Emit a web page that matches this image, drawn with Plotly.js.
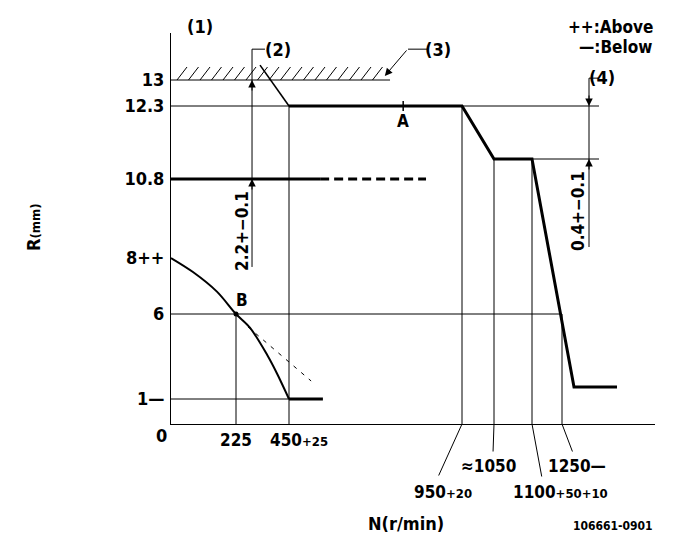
<!DOCTYPE html>
<html><head><meta charset="utf-8">
<script src="https://cdn.plot.ly/plotly-3.0.1.min.js"></script>
<style>html,body{margin:0;padding:0;background:#fff}</style>
</head><body><div id="chart" style="width:681px;height:549px"></div>
<script>
// ===== data (real units: N in r/min, R in mm) =====
const rTickValues = [1, 6, 8, 10.8, 12.3, 13];
const rTickLabels = ['1—', '6', '8++', '10.8', '12.3', '13'];
const nTickValues = [225, 450, 950, 1050, 1100, 1250];
const nTickLabels = ['225', '450<span style="font-size:13px">+25</span>', '950<span style="font-size:13px">+20</span>',
                     '≈1050', '1100<span style="font-size:13px">+50+10</span>', '1250—'];

const governorN = [450, 950, 1050, 1100, 1310, 1525];
const governorR = [12.3, 12.3, 11.9, 11.9, 1.7, 1.7];
const rackLimitN = [327, 450];
const rackLimitR = [13.4, 12.3];
const startN = [0, 76, 159, 225, 284, 357, 399, 450];
const startR = [8, 7.5, 6.8, 6, 5.2, 3.6, 2.5, 1];
const idleN = [450, 548];
const idleR = [1, 1];
const startAltN = [276, 514];
const startAltR = [5.24, 2.06];
const set108SolidN = [0, 540];
const set108DashN = [540, 846];
const set108R = 10.8;
const stopperN = [0, 742];
const stopperR = 13;
const pointA = {n: 780, r: 12.3};
const pointB = {n: 225, r: 6};

// ===== schematic (non-linear) scales of the drawing =====
const nScaleV = [0, 225, 450, 950, 1050, 1100, 1250];
const nScaleP = [0, 65, 118, 291, 323, 361, 391];
const rScaleV = [0, 1, 6, 8, 10.8, 11.9, 12.3, 13];
const rScaleP = [0, 25, 110, 166, 245, 265, 318, 344];
function interp(v, V, P) {
  let i = 0;
  while (i < V.length - 2 && v > V[i + 1]) i++;
  return P[i] + (v - V[i]) * (P[i + 1] - P[i]) / (V[i + 1] - V[i]);
}
const sx = n => interp(n, nScaleV, nScaleP);
const sy = r => interp(r, rScaleV, rScaleP);

// ===== figure geometry =====
const W = 681, H = 549, ML = 171, MR = 26, MT = 33, MB = 125;
const PW = W - ML - MR, PH = H - MT - MB;
const FONT = '"DejaVu Sans Condensed", "Liberation Sans Narrow", sans-serif';

const traces = [];
function line(ns, rs, width, dash, shape) {
  traces.push({x: ns.map(sx), y: rs.map(sy), mode: 'lines', hoverinfo: 'skip', showlegend: false,
    line: {color: '#000', width: width, dash: dash || 'solid', shape: shape || 'linear', smoothing: 0.9}});
}
// thin reference lines
line(stopperN, [stopperR, stopperR], 1);
line([0, 1435], [12.3, 12.3], 1);
line([1100, 1435], [11.9, 11.9], 1);
line([0, 1250], [6, 6], 1);
line([0, 450], [1, 1], 1);
[[225, 6], [450, 12.3], [950, 12.3], [1050, 11.9], [1100, 11.9], [1250, 6]].forEach(v => line([v[0], v[0]], [0, v[1]], 1));
// hatching above the stopper line (decoration)
(function () {
  const hx = [], hy = [];
  const y0 = sy(stopperR);
  for (let i = 0; i < 18; i++) {
    const x0 = 6 + i * 11.5;
    hx.push(x0, x0 + 10, null); hy.push(y0, y0 + 13, null);
  }
  traces.push({x: hx, y: hy, mode: 'lines', hoverinfo: 'skip', showlegend: false, line: {color: '#000', width: 1}});
})();
// dimension (2) and (4) lines, leader of (3)
line([293, 293], [7.68, 13.83], 1);
line([293, 348], [13.83, 13.83], 1);
line([1385, 1385], [8.39, 13.05], 1);
line([1385, 1430], [13.05, 13.05], 1);
line([794, 849], [13.83, 13.83], 1);
// characteristic curves
line(rackLimitN, rackLimitR, 1.6);
line(startN, startR, 2, 'solid', 'spline');
line(idleN, idleR, 3);
line(startAltN, startAltR, 1, '4px,6px');
line(set108SolidN, [set108R, set108R], 3);
line(set108DashN, [set108R, set108R], 3, '9px,5px');
line(governorN, governorR, 3);
// points A and B
traces.push({x: [sx(pointA.n)], y: [sy(pointA.r)], mode: 'markers', hoverinfo: 'skip', showlegend: false,
  marker: {symbol: 'line-ns', size: 7, line: {color: '#000', width: 1.5}}});
traces.push({x: [sx(pointB.n)], y: [sy(pointB.r)], mode: 'markers', hoverinfo: 'skip', showlegend: false,
  marker: {symbol: 'circle', size: 5, color: '#000'}});

// ===== annotations =====
const ann = [];
function T(text, px, py, size, extra) {
  ann.push(Object.assign({text: text, xref: 'paper', yref: 'paper', x: (px - ML) / PW, y: (H - MB - py) / PH,
    xanchor: 'center', yanchor: 'middle', showarrow: false,
    font: {family: FONT, size: size, color: '#000', weight: 'bold'}}, extra || {}));
}
function arrowHead(n, r, ay) {
  ann.push({text: '', xref: 'x', yref: 'y', x: sx(n), y: sy(r), ax: 0, ay: ay, showarrow: true,
    arrowhead: 2, arrowsize: 1.5, arrowwidth: 1, arrowcolor: '#000', standoff: 0});
}
function leader(n, ax, ay) {
  ann.push({text: '', xref: 'x', yref: 'y', x: sx(n), y: 0, ax: ax, ay: ay, showarrow: true,
    arrowhead: 0, arrowwidth: 1, arrowcolor: '#000', standoff: 0, startstandoff: 0});
}
arrowHead(293, 13, 12);
arrowHead(293, 10.8, 12);
arrowHead(1385, 12.3, -12);
arrowHead(1385, 11.9, 12);
ann.push({text: '', xref: 'x', yref: 'y', x: sx(727), y: sy(13.11), ax: 23, ay: -27, showarrow: true,
  arrowhead: 2, arrowsize: 1.5, arrowwidth: 1, arrowcolor: '#000', standoff: 0});
leader(950, -24, 53);
leader(1050, -1, 29);
leader(1100, 10, 54);
leader(1250, 11, 29);

// x labels
T(nTickLabels[0], 236, 440, 17);
T(nTickLabels[1], 299, 440, 17);
T(nTickLabels[2], 443, 492, 17);
T(nTickLabels[3], 488, 466, 17);
T(nTickLabels[4], 560, 492, 17);
T(nTickLabels[5], 577, 466, 17);
T('0', 161, 435, 18);
// callouts
T('(1)', 200, 27, 18);
T('(2)', 278, 50, 18);
T('(3)', 438, 50, 18);
T('(4)', 602, 77, 18);
T('++:Above', 655, 27, 17, {xanchor: 'right'});
T('—:Below', 654, 47, 17, {xanchor: 'right'});
T('A', 403, 121, 17);
T('B', 242, 300, 17);
T('2.2+−0.1', 242, 231, 17, {textangle: -90});
T('0.4+−0.1', 578, 211, 17, {textangle: -90});
T('R<span style="font-size:13px">(mm)</span>', 33, 227, 18, {textangle: -90});
T('N(r/min)', 406, 523, 18);
T('106661-0901', 613, 526, 12);

const layout = {
  width: W, height: H,
  margin: {l: ML, r: MR, t: MT, b: MB, pad: 0},
  paper_bgcolor: '#fff', plot_bgcolor: '#fff',
  showlegend: false,
  xaxis: {range: [0, PW], showgrid: false, zeroline: false, showline: true, linecolor: '#000', linewidth: 1,
    ticks: '', showticklabels: false, fixedrange: true},
  yaxis: {range: [0, PH], showgrid: false, zeroline: false, showline: true, linecolor: '#000', linewidth: 1,
    ticks: '', tickvals: rTickValues.map(sy), ticktext: rTickLabels, ticklabelstandoff: 2,
    tickfont: {family: FONT, size: 18, color: '#000', weight: 'bold'}, fixedrange: true},
  annotations: ann
};
Plotly.newPlot('chart', traces, layout, {staticPlot: true, displayModeBar: false});
</script>
</body></html>
